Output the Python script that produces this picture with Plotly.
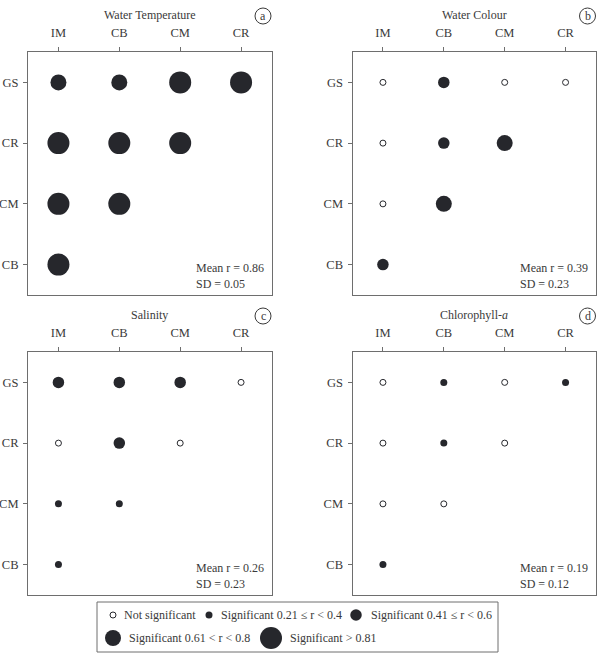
import plotly.graph_objects as go

# ---------------- data ----------------
COLS = ["IM", "CB", "CM", "CR"]           # x categories (top axis)
ROWS = ["GS", "CR", "CM", "CB"]           # y categories, top to bottom
# class codes: 0 = not significant, 1 = 0.21-0.4, 2 = 0.41-0.6, 3 = 0.61-0.8, 4 = >0.81
WATER_TEMP = [[3, 3, 4, 4],
              [4, 4, 4, None],
              [4, 4, None, None],
              [4, None, None, None]]
WATER_COLOUR = [[0, 2, 0, 0],
                [0, 2, 3, None],
                [0, 3, None, None],
                [2, None, None, None]]
SALINITY = [[2, 2, 2, 0],
            [0, 2, 0, None],
            [1, 1, None, None],
            [1, None, None, None]]
CHLOROPHYLL = [[0, 1, 0, 1],
               [0, 1, 0, None],
               [0, 0, None, None],
               [1, None, None, None]]
TITLES = ["Water Temperature", "Water Colour", "Salinity", "Chlorophyll-<i>a</i>"]
LETTERS = ["a", "b", "c", "d"]
MEAN_R = ["0.86", "0.39", "0.26", "0.19"]
SD = ["0.05", "0.23", "0.23", "0.12"]
LEGEND_LABELS = ["Not significant", "Significant 0.21 \u2264 r < 0.4",
                 "Significant 0.41 \u2264 r < 0.6", "Significant 0.61 < r < 0.8",
                 "Significant > 0.81"]
LEGEND_CLASSES = [0, 1, 2, 3, 4]

# ---------------- style ----------------
W, H = 602, 653
SIZE = {0: 6, 1: 7, 2: 11.5, 3: 16, 4: 22}
DARK = "#26272c"
AX = "#6e6e6e"
TXT = "#3a3a3a"
FONT = "Liberation Serif"

# panel boxes in pixels: (left, right, top, bottom)
BOXES = [(28, 271.5, 52, 295), (352.5, 596, 52, 295),
         (28, 271.5, 352, 595), (352.5, 596, 352, 595)]
TITLE_Y = [15, 15, 315, 315]

def px(x):
    return x / W

def py(y):
    return 1 - y / H

fig = go.Figure()
annotations = []
shapes = []
matrices = [WATER_TEMP, WATER_COLOUR, SALINITY, CHLOROPHYLL]

for i, mat in enumerate(matrices):
    k = "" if i == 0 else str(i + 1)
    xs_f, ys_f, sz_f, xs_o, ys_o = [], [], [], [], []
    for r, row in enumerate(mat):
        for c, v in enumerate(row):
            if v is None:
                continue
            if v == 0:
                xs_o.append(COLS[c]); ys_o.append(ROWS[r])
            else:
                xs_f.append(COLS[c]); ys_f.append(ROWS[r]); sz_f.append(SIZE[v])
    fig.add_trace(go.Scatter(x=xs_f, y=ys_f, mode="markers", xaxis="x" + k, yaxis="y" + k,
                             marker=dict(size=sz_f, color=DARK, opacity=1, line=dict(width=0)),
                             showlegend=False, hoverinfo="skip"))
    fig.add_trace(go.Scatter(x=xs_o, y=ys_o, mode="markers", xaxis="x" + k, yaxis="y" + k,
                             marker=dict(size=SIZE[0], color="white", opacity=1,
                                         line=dict(width=1, color=DARK)),
                             showlegend=False, hoverinfo="skip"))
    l, rgt, t, b = BOXES[i]
    fig.update_layout(**{
        "xaxis" + k: dict(domain=[px(l), px(rgt)], anchor="y" + k, side="top",
                          type="category", categoryarray=COLS, range=[-0.5, 3.5],
                          showline=True, linecolor=AX, linewidth=1, mirror=True,
                          ticks="outside", ticklen=4, tickcolor=AX, showgrid=False,
                          ticklabelstandoff=5,
                          zeroline=False, tickfont=dict(family=FONT, size=12.5, color=TXT)),
        "yaxis" + k: dict(domain=[py(b), py(t)], anchor="x" + k,
                          type="category", categoryarray=ROWS[::-1], range=[-0.5, 3.5],
                          showline=True, linecolor=AX, linewidth=1, mirror=True,
                          ticks="outside", ticklen=4, tickcolor=AX, showgrid=False,
                          ticklabelstandoff=2,
                          zeroline=False, tickfont=dict(family=FONT, size=12.5, color=TXT)),
    })
    # title
    annotations.append(dict(x=px((l + rgt) / 2), y=py(TITLE_Y[i]), xref="paper", yref="paper",
                            text=TITLES[i], showarrow=False, xanchor="center", yanchor="middle",
                            font=dict(family=FONT, size=12, color=TXT)))
    # letter in circle
    cx, cy = rgt - 8.5, TITLE_Y[i] + 1
    shapes.append(dict(type="circle", xref="paper", yref="paper",
                       x0=px(cx - 8), x1=px(cx + 8), y0=py(cy + 8), y1=py(cy - 8),
                       line=dict(color=TXT, width=1)))
    annotations.append(dict(x=px(cx), y=py(cy), xref="paper", yref="paper", text=LETTERS[i],
                            showarrow=False, xanchor="center", yanchor="middle",
                            font=dict(family=FONT, size=12, color=TXT)))
    # mean / sd
    annotations.append(dict(x=px(rgt - 78), y=py(b - 36), xref="paper", yref="paper",
                            text="Mean r = %s<br>SD = %s" % (MEAN_R[i], SD[i]),
                            showarrow=False, xanchor="left", yanchor="top", align="left",
                            font=dict(family=FONT, size=12, color=TXT)))

# ---------------- legend (manual) ----------------
LB = (97, 498, 602, 652)
shapes.append(dict(type="rect", xref="paper", yref="paper",
                   x0=px(LB[0]), x1=px(LB[1]), y0=py(LB[3]), y1=py(LB[2]),
                   line=dict(color=AX, width=1), fillcolor="rgba(0,0,0,0)"))
# marker centres (px) and text starts (px)
LEG_POS = [(113, 615, 122), (209, 615, 219), (356, 615, 369), (113, 638, 127), (271, 638, 288)]
fig.update_layout(
    xaxis5=dict(domain=[0, 1], range=[0, W], visible=False, anchor="y5", fixedrange=True),
    yaxis5=dict(domain=[0, 1], range=[H, 0], visible=False, anchor="x5", fixedrange=True),
)
for cls, lab, (mx, my, tx) in zip(LEGEND_CLASSES, LEGEND_LABELS, LEG_POS):
    if cls == 0:
        mk = dict(size=SIZE[0], color="white", opacity=1, line=dict(width=1, color=DARK))
    else:
        mk = dict(size=SIZE[cls], color=DARK, opacity=1, line=dict(width=0))
    fig.add_trace(go.Scatter(x=[mx], y=[my], mode="markers", xaxis="x5", yaxis="y5",
                             marker=mk, showlegend=False, hoverinfo="skip", cliponaxis=False))
    annotations.append(dict(x=px(tx), y=py(my), xref="paper", yref="paper", text=lab,
                            showarrow=False, xanchor="left", yanchor="middle",
                            font=dict(family=FONT, size=12, color=TXT)))

fig.update_layout(width=W, height=H, margin=dict(l=0, r=0, t=0, b=0),
                  paper_bgcolor="white", plot_bgcolor="rgba(0,0,0,0)",
                  annotations=annotations, shapes=shapes, showlegend=False)
fig.write_html("out.html", config={"displayModeBar": False})
